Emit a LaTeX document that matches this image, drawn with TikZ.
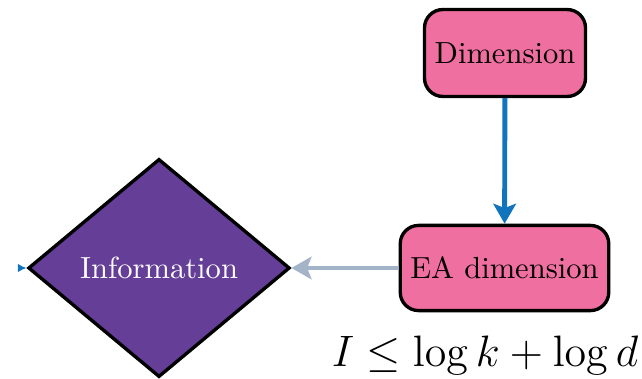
\documentclass[tikz,border=0pt]{standalone}
\usetikzlibrary{shapes.geometric,arrows.meta}
\definecolor{boxpink}{RGB}{238,111,160}
\definecolor{infopurple}{RGB}{101,62,152}
\definecolor{flowblue}{RGB}{16,117,188}
\definecolor{flowgray}{RGB}{164,180,200}
\tikzset{
  pinkbox/.style={rectangle,rounded corners=6pt,draw,line width=1.1pt,fill=boxpink},
  infobox/.style={diamond,draw,line width=1.1pt,fill=infopurple,text=white,inner sep=0pt},
}
\begin{document}
\begin{tikzpicture}
    [x=0.0115cm,y=-0.0115cm]
    \useasboundingbox (0,0) rectangle (642,379);
    \node (dim) at (505, 53) [pinkbox,minimum width=1.84cm,minimum height=1.0cm] {Dimension};
    \node (ea) at (504.5, 268) [pinkbox,minimum width=2.38cm,minimum height=0.98cm] {EA dimension};
    \node (info) at (159, 268) [infobox,minimum width=3.01cm,minimum height=2.51cm] {Information};
    \node (bound) at (485, 355) {\fontsize{14.5}{17}\selectfont $I \leq \log k + \log d$};
    \coordinate (in) at (21, 268);
    \draw [-{Stealth[length=2.3mm,width=2.6mm,inset=0.5mm]},flowblue,line width=1.6pt] (dim) to (ea);
    \draw [-{Stealth[length=2.3mm,width=2.6mm,inset=0.5mm]},flowgray,line width=1.6pt] (ea) to (info);
    \draw [-{Latex[length=1mm,width=1mm]},flowblue,line width=0.5pt] (in) to (info);
  \end{tikzpicture}
\end{document}
